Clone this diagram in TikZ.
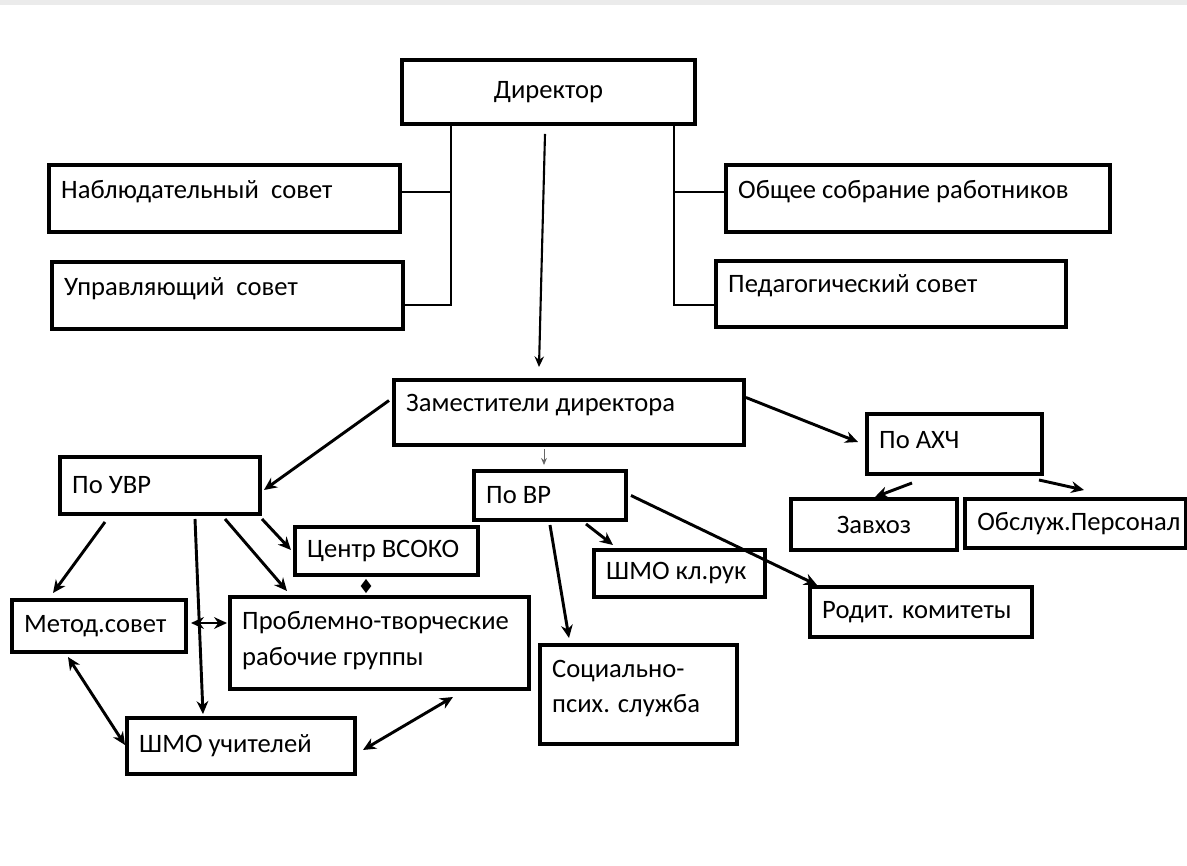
\documentclass[tikz,border=0pt]{standalone}
\usepackage{fontspec}
\setmainfont{Carlito}
\usepackage{tikz}
\usetikzlibrary{arrows.meta,calc}
\tikzstyle{arrow} = [line width=2.5pt,-{Stealth[length=11pt,width=10pt]}]
\tikzstyle{twoway} = [line width=2.5pt,{Stealth[length=11pt,width=10pt]}-{Stealth[length=11pt,width=10pt]}]
\newcommand{\pxu}{0.03cm}

\begin{document}
\begin{tikzpicture}[
            x=0.03cm, y=-0.03cm,
            box/.style={draw, line width=3.4pt, anchor=north west, inner sep=0pt, font=\fontsize{22.7}{30.5}\selectfont},
            txt/.style={anchor=west, xshift=14*\pxu, inner sep=0pt, align=left, font=\fontsize{22.7}{30.5}\selectfont},
            link/.style={line width=2.5pt}
        ]
            \useasboundingbox (0,0) rectangle (1187,865);
            \fill[black!8] (0,0) rectangle (1187,5);

            \node[box, minimum width=293*\pxu, minimum height=64*\pxu] (dir) at (400,58) {Директор};
            \node[box, minimum width=351*\pxu, minimum height=67*\pxu, label={[txt, yshift=6.5*\pxu]west:Наблюдательный\ \ совет}] (nab) at (47,163) {};
            \node[box, minimum width=351*\pxu, minimum height=67*\pxu, label={[txt, yshift=6.5*\pxu]west:Управляющий\ \ совет}] (upr) at (50,260) {};
            \node[box, minimum width=384*\pxu, minimum height=67*\pxu, label={[txt, yshift=6.5*\pxu]west:Общее собрание работников}] (obsch) at (724,163) {};
            \node[box, minimum width=350*\pxu, minimum height=66*\pxu, label={[txt, yshift=8*\pxu]west:Педагогический совет}] (ped) at (714,259) {};

            \node[box, minimum width=350*\pxu, minimum height=65*\pxu, label={[txt, yshift=7.5*\pxu]west:Заместители директора}] (zam) at (392,378) {};
            \node[box, minimum width=175*\pxu, minimum height=60*\pxu, label={[txt, yshift=4*\pxu]west:По АХЧ}] (ahc) at (865,412) {};
            \node[box, minimum width=200*\pxu, minimum height=57*\pxu, label={[txt]west:По УВР}] (uvr) at (58,455) {};
            \node[box, minimum width=152*\pxu, minimum height=49*\pxu, label={[txt]west:По ВР}] (vr) at (472,469) {};
            \node[box, minimum width=166*\pxu, minimum height=51*\pxu] (zav) at (789,497) {Завхоз};
            \node[box, minimum width=221*\pxu, minimum height=49*\pxu, label={[txt]west:Обслуж.Персонал}] (pers) at (963,497) {};

            \node[box, minimum width=183*\pxu, minimum height=48*\pxu, label={[txt]west:Центр ВСОКО}] (cent) at (293,525) {};
            \node[box, minimum width=171*\pxu, minimum height=47*\pxu, label={[txt]west:ШМО кл.рук}] (shmk) at (592,548) {};
            \node[box, minimum width=222*\pxu, minimum height=50*\pxu, label={[txt]west:Родит. комитеты}] (rod) at (808,585) {};
            \node[box, minimum width=174*\pxu, minimum height=52*\pxu, label={[txt]west:Метод.совет}] (met) at (10,598) {};
            \node[box, minimum width=299*\pxu, minimum height=92*\pxu, label={[txt, yshift=2.5*\pxu]west:Проблемно-творческие\\рабочие группы}] (pro) at (228,595) {};
            \node[box, minimum width=197*\pxu, minimum height=99*\pxu, label={[txt, yshift=6*\pxu]west:Социально-\\псих. служба}] (soc) at (538,643) {};
            \node[box, minimum width=228*\pxu, minimum height=56*\pxu, label={[txt]west:ШМО учителей}] (shu) at (125,716) {};

            \coordinate (lbus) at ($(dir.south west)+(51,0)$);
            \coordinate (rbus) at ($(dir.south east)+(-23,0)$);
            \draw[link] (lbus) |- ($(upr.east)+(0,9.5)$);
            \draw[link] ($(nab.east)+(0,-6.5)$) -- (lbus |- {$(nab.east)+(0,-6.5)$});
            \draw[link] (rbus) |- ($(ped.west)+(0,11)$);
            \draw[link] ($(obsch.west)+(0,-6.5)$) -- (rbus |- {$(obsch.west)+(0,-6.5)$});

            \draw[line width=1.8pt, -{Stealth[length=9pt,width=8pt]}] ($(dir.south)+(-3.5,8)$) -- ($(zam.north)+(-30,-11)$);
            \draw[arrow] ($(zam.west)+(-3,-12)$) -- ($(uvr.east)+(2,4.5)$);
            \draw[arrow] ($(zam.east)+(0,-15)$) -- ($(ahc.west)+(-7,-2)$);
            \draw[black!60, line width=0.7pt, -{Stealth[length=6pt,width=5pt]}] ($(zam.south)+(-25,2)$) -- ($(vr.north)+(-6,-4)$);

            \draw[arrow] ($(ahc.south)+(-42.5,7)$) -- ($(zav.north)+(1,0)$);
            \draw[arrow] ($(ahc.south east)+(-5,4)$) -- ($(pers.north)+(8.5,-7)$);

            \draw[arrow] ($(vr.south)+(36,2)$) -- ($(shmk.north west)+(21,-3)$);
            \draw[arrow] ($(vr.east)+(3,0)$) -- ($(rod.north west)+(9,0)$);
            \draw[arrow] ($(vr.south)+(0,3)$) -- ($(soc.north west)+(31,-5)$);

            \draw[arrow] ($(uvr.south west)+(47,6)$) -- ($(met.north west)+(43,-5)$);
            \draw[arrow] ($(uvr.south west)+(137,3)$) -- ($(shu.north west)+(78,-2)$);
            \draw[arrow] ($(uvr.south west)+(167,3)$) -- ($(pro.north west)+(59,-4)$);
            \draw[arrow] ($(uvr.south east)+(0,3)$) -- ($(cent.west)+(-2,-1)$);

            \draw[line width=1.5pt, -{Diamond[length=12pt,width=9pt]}] ($(cent.south)+(-20.5,5)$) -- ($(pro.north)+(-13.5,-2)$);
            \draw[twoway] ($(met.east)+(3,-3)$) -- ($(pro.west)+(-1,-20)$);
            \draw[twoway] ($(met.south)+(-31,3)$) -- ($(shu.west)+(0,-1)$);
            \draw[twoway] ($(shu.east)+(6,4)$) -- ($(pro.south)+(73.5,6)$);

        \end{tikzpicture}
\end{document}
